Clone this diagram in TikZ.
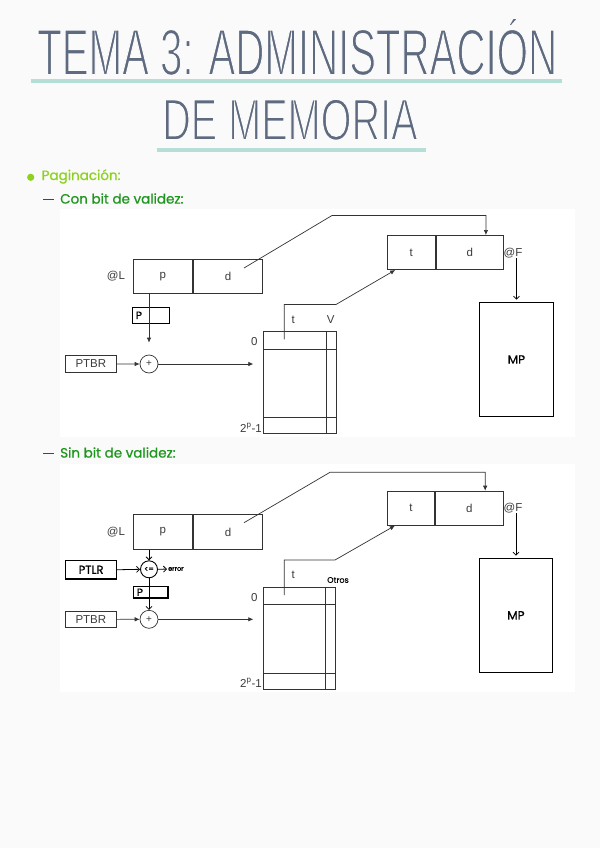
\documentclass[tikz,border=0pt]{standalone}
\usepackage{fontspec}
\setmainfont{Liberation Sans}
\newfontfamily\handfont[FakeBold=0.8]{Poppins}
\usetikzlibrary{arrows.meta}
\definecolor{titlec}{HTML}{5E6A7F}
\definecolor{ulc}{HTML}{B4DED6}
\definecolor{lime}{HTML}{8CD21E}
\definecolor{dgreen}{HTML}{1E961E}
\definecolor{dashc}{HTML}{36503C}
\definecolor{pagebg}{HTML}{FAFAFA}
\definecolor{linec}{HTML}{333333}
\definecolor{txtc}{HTML}{3C3C3C}
\newcommand{\thintext}[1]{\special{pdf:literal 2 Tr 0.98 0.98 0.98 RG 1.6 w}#1\special{pdf:literal 0 Tr}}
\tikzset{
 cell/.style={draw=linec, line width=0.7pt, inner sep=0pt, anchor=north west, text=txtc, font=\fontsize{11.5}{13}\selectfont},
 lbl/.style={inner sep=0pt, text=txtc, font=\fontsize{11.5}{13}\selectfont},
 pline/.style={draw=linec, line width=0.7pt},
 parr/.style={pline, -{Latex[length=5pt,width=4.5pt]}},
 hbox/.style={draw=black, line width=1.2pt, inner sep=0pt, anchor=north west, font=\handfont\fontsize{10.5}{11}\selectfont},
 htxt/.style={inner sep=0pt, text=black, font=\handfont\fontsize{10.5}{11}\selectfont},
 harr/.style={draw=black, line width=0.8pt, -{Straight Barb[length=3pt,width=6pt]}},
 sumc/.style={circle, draw=linec, line width=0.7pt, minimum size=18pt, inner sep=0pt, font=\fontsize{10}{11}\selectfont, text=txtc},
 head/.style={anchor=west, inner sep=0pt, font=\handfont\fontsize{13.5}{15}\selectfont},
}
\begin{document}
\begin{tikzpicture}[x=1pt,y=-1pt]
\fill[pagebg] (0,0) rectangle (600,848);
\useasboundingbox (0,0) rectangle (600,848);
\fill[white] (60,209) rectangle (575,437);
\fill[white] (60,464.3) rectangle (575,692);

% title
\node[anchor=base west, inner sep=0pt, text=titlec] (title1) at (37,75)
  {\scalebox{0.613}[1]{\fontsize{65.6}{70}\selectfont\thintext{TEMA 3: ADMINISTRACIÓN}}};
\draw[ulc, line width=3.5pt] (31,81) -- (561.7,81);
\node[anchor=base west, inner sep=0pt, text=titlec] (title2) at (162,140)
  {\scalebox{0.675}[1]{\fontsize{58.7}{62}\selectfont\thintext{DE MEMORIA}}};
\draw[ulc, line width=4pt] (156.7,149.7) -- (426,149.7);

% headings
\fill[lime] (30.7,177.3) circle (3.6);
\node[head, text=lime] (h1) at (41.5,176.5) {Paginación:};
\draw[dashc, line width=1.6pt] (43,199.5) -- (54,199.5);
\node[head, text=dgreen] (h2) at (60,198.5) {Con bit de validez:};
\draw[dashc, line width=1.6pt] (43,453.5) -- (54,453.5);
\node[head, text=dgreen] (h3) at (60,452.5) {Sin bit de validez:};

% ===== top diagram =====
\node[cell, minimum width=59.6pt, minimum height=33.7pt] (Lp1) at (132.7,259) {p};
\node[cell, minimum width=69.4pt, minimum height=33.7pt] (Ld1) at (Lp1.north east) {d};
\node[lbl] (L1) at (116,276.5) {@L};
\node[cell, minimum width=48.3pt, minimum height=34.3pt] (Ft1) at (386.7,235) {t};
\node[cell, minimum width=67.7pt, minimum height=34.3pt] (Fd1) at (Ft1.north east) {d};
\node[lbl] (F1) at (513,253) {@F};
\node[hbox, minimum width=73.7pt, minimum height=114.3pt, font=\handfont\fontsize{12}{13}\selectfont] (MP1) at (479,301.7) {MP};
\draw[harr, shorten >=2pt] (F1.south -| MP1.north) -- (MP1.north);

\node[cell, minimum width=72.7pt, minimum height=102.6pt] (T1) at (263.3,330.7) {};
\draw[pline] ([xshift=-10.3pt]T1.north east) -- ([xshift=-10.3pt]T1.south east);
\draw[pline] ([yshift=-18.3pt]T1.north west) -- ([yshift=-18.3pt]T1.north east);
\draw[pline] ([yshift=16.6pt]T1.south west) -- ([yshift=16.6pt]T1.south east);
\node[lbl] (z1) at (254.3,341.7) {0};
\node[lbl, anchor=east] (n1) at (262,427.7) {2\textsuperscript{p}-1};
\node[lbl] (tt1) at (293.3,320) {t};
\node[lbl] (v1) at (330.7,320) {V};

\node[hbox, minimum width=37.3pt, minimum height=16pt] (P1) at (131.7,306.7) {};
\node[htxt, anchor=west] (P1t) at ([xshift=4pt]P1.west) {P};
\node[sumc] (S1) at (149,364) {+};
\draw[parr, shorten >=12pt] (S1.north |- Lp1.south) -- (S1.north);
\node[cell, minimum width=51pt, minimum height=17.3pt] (B1) at (65,355) {PTBR};
\draw[parr] (B1.east) -- (S1.west);
\draw[parr, shorten >=10pt] (S1.east) -- (S1.east -| T1.west);

\coordinate (s1) at (244,268);
\coordinate (c1) at (332,215.5);
\coordinate (e1) at ([xshift=16pt]Fd1.north);
\draw[parr] (s1) -- (c1) -- (c1 -| e1) -- (e1);
\coordinate (s2) at (284.3,339.3);
\coordinate (c2) at (336,304.5);
\coordinate (e2) at ([xshift=-16pt]Ft1.south);
\draw[parr] (s2) -- (s2 |- c2) -- (c2) -- (e2);

% ===== bottom diagram =====
\node[cell, minimum width=59.6pt, minimum height=35.3pt] (Lp2) at (132.7,514) {p};
\node[cell, minimum width=69.4pt, minimum height=35.3pt] (Ld2) at (Lp2.north east) {d};
\node[lbl] (L2) at (116,532) {@L};
\node[cell, minimum width=47.6pt, minimum height=34.3pt] (Ft2) at (386.7,490.7) {t};
\node[cell, minimum width=67.7pt, minimum height=34.3pt] (Fd2) at (Ft2.north east) {d};
\node[lbl] (F2) at (513,508.3) {@F};
\node[hbox, minimum width=72.7pt, minimum height=114pt, font=\handfont\fontsize{12}{13}\selectfont] (MP2) at (479,557.7) {MP};
\draw[harr, shorten >=2pt] (F2.south -| MP2.north) -- (MP2.north);

\node[cell, minimum width=71.7pt, minimum height=102.3pt] (T2) at (263.3,586.7) {};
\draw[pline] ([xshift=-10pt]T2.north east) -- ([xshift=-10pt]T2.south east);
\draw[pline] ([yshift=-17.6pt]T2.north west) -- ([yshift=-17.6pt]T2.north east);
\draw[pline] ([yshift=16.7pt]T2.south west) -- ([yshift=16.7pt]T2.south east);
\node[lbl] (z2) at (254.3,597.3) {0};
\node[lbl, anchor=east] (n2) at (262,682.7) {2\textsuperscript{p}-1};
\node[lbl] (tt2) at (293.3,575) {t};
\node[htxt, font=\handfont\fontsize{8}{9}\selectfont] (o2) at (338,580) {Otros};

\node[hbox, minimum width=51pt, minimum height=18.3pt, font=\handfont\fontsize{11.5}{12}\selectfont] (R2) at (65,560) {PTLR};
\node[circle, draw=black, line width=0.9pt, minimum size=17pt, inner sep=0pt, font=\handfont\fontsize{7.5}{8}\selectfont] (C2) at (149,569.3) {<=};
\draw[harr] (C2.north |- Lp2.south) -- (C2.north);
\draw[harr] (R2.east) -- (C2.west);
\node[htxt, anchor=west, font=\handfont\fontsize{6.5}{7}\selectfont] (err) at (168,569) {error};
\draw[harr, shorten >=1pt] (C2.east) -- (err.west);
\node[hbox, minimum width=34.6pt, minimum height=11.3pt] (P2) at (132.7,586) {};
\node[htxt, anchor=west] (P2t) at ([xshift=4pt]P2.west) {P};
\node[sumc] (S2) at (149,619.3) {+};
\draw[harr] (C2.south) -- (S2.north);
\node[cell, minimum width=51pt, minimum height=16.6pt] (B2) at (65,610.7) {PTBR};
\draw[parr] (B2.east) -- (S2.west);
\draw[parr, shorten >=10pt] (S2.east) -- (S2.east -| T2.west);

\coordinate (s3) at (244,522.7);
\coordinate (c3) at (330,472.3);
\coordinate (e3) at ([xshift=16pt]Fd2.north);
\draw[parr] (s3) -- (c3) -- (c3 -| e3) -- (e3);
\coordinate (s4) at (284.3,595);
\coordinate (c4) at (335,560);
\coordinate (e4) at ([xshift=-16pt]Ft2.south);
\draw[parr] (s4) -- (s4 |- c4) -- (c4) -- (e4);
\end{tikzpicture}
\end{document}
